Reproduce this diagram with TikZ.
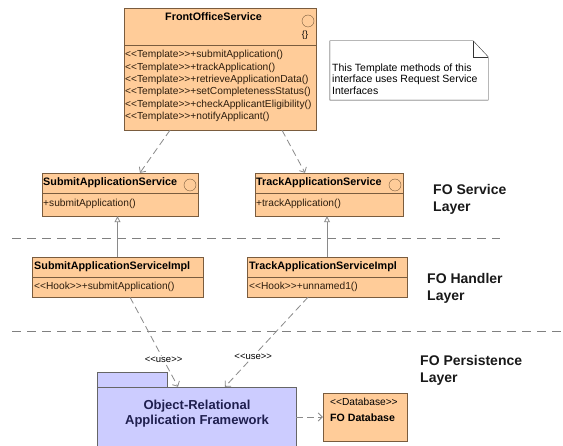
\documentclass[tikz,border=0pt]{standalone}
\usepackage{fontspec}
\setmainfont{Liberation Sans}[Ligatures=TeXOff]
\usetikzlibrary{arrows.meta, positioning}
\definecolor{peach}{HTML}{FFCC99}
\definecolor{peachline}{HTML}{7A5C3E}
\definecolor{lilac}{HTML}{CCCCFF}
\definecolor{pkgtext}{HTML}{1F1F4F}
\definecolor{depgray}{HTML}{8A8A8A}
\definecolor{optext}{HTML}{2E1E0E}

\begin{document}
\begin{tikzpicture}[x=1pt, y=-1pt,
  box/.style={draw=peachline, fill=peach, inner sep=0pt},
  title/.style={font=\fontsize{10.8}{13}\selectfont\bfseries, inner sep=0pt, anchor=west},
  op/.style={font=\fontsize{10.2}{12.3}\selectfont, text=optext, inner sep=0pt, anchor=west, align=left},
  iface/.style={draw=peachline, fill=peach, circle, minimum size=12pt, inner sep=0pt},
  layername/.style={font=\fontsize{14}{17}\selectfont\bfseries, text=black!90, align=left, anchor=west, inner sep=0pt},
  dep/.style={draw=depgray, line width=0.8pt, dash pattern=on 7pt off 4pt,
              -{Straight Barb[length=4pt, width=8pt]}},
  real/.style={draw=depgray, line width=0.8pt, -{Triangle[open, length=6pt, width=6pt]}},
  sep/.style={draw=gray, line width=0.9pt, dash pattern=on 9pt off 6pt},
  uselabel/.style={font=\fontsize{9.5}{11}\selectfont, fill=white, inner sep=1pt}
]
  \useasboundingbox[fill=white] (0,0) rectangle (563,446);
  \clip (0,0) rectangle (563,446);

  % layer separators
  \draw[sep] (12,238) -- (500,238);
  \draw[sep] (12,331) -- (563,331);

  % FO service interface
  \node[box, minimum width=192pt, minimum height=37pt] (fosh) at (220,26.5) {};
  \node[box, minimum width=192pt, minimum height=85pt] (fosb) at (220,87.5) {};
  \node[title] (fost) at (165,17) {FrontOfficeService};
  \node[iface] (fosc) at (308,21) {};
  \node[font=\fontsize{9}{10}\selectfont, inner sep=0pt] (fosk) at (305,35) {\{\}};
  \node[op, font=\fontsize{10.2}{12.3}\selectfont] (foso) at (125,86)
    {<<Template>>+submitApplication()\\
     <<Template>>+trackApplication()\\
     <<Template>>+retrieveApplicationData()\\
     <<Template>>+setCompletenessStatus()\\
     <<Template>>+checkApplicantEligibility()\\
     <<Template>>+notifyApplicant()};

  % note
  \node[minimum width=158pt, minimum height=59pt, inner sep=0pt] (note) at (409,70.5) {};
  \draw[black!80, fill=white] (note.north west) -- ([xshift=-15pt]note.north east)
    -- ([yshift=-16pt]note.north east) -- (note.south east) -- (note.south west) -- cycle;
  \draw[black!80] ([xshift=-15pt]note.north east) -- ([xshift=-15pt, yshift=-16pt]note.north east)
    -- ([yshift=-16pt]note.north east);
  \node[op, text=black, font=\fontsize{10.5}{11.7}\selectfont] (notetxt) at (332,79)
    {This Template methods of this\\interface uses Request Service\\Interfaces};

  % service layer
  \node[box, minimum width=156pt, minimum height=20pt] (sash) at (120,183) {};
  \node[box, minimum width=156pt, minimum height=23pt] (sasb) at (120,204.5) {};
  \node[title] (sast) at (43,183) {SubmitApplicationService};
  \node[iface] (sasc) at (190,185) {};
  \node[op] (saso) at (43,204) {+submitApplication()};

  \node[box, minimum width=148pt, minimum height=20pt] (tash) at (329,183) {};
  \node[box, minimum width=148pt, minimum height=23pt] (tasb) at (329,204.5) {};
  \node[title] (tast) at (256,183) {TrackApplicationService};
  \node[iface] (tasc) at (395,185) {};
  \node[op] (taso) at (256,204) {+trackApplication()};

  % handler layer
  \node[box, minimum width=171pt, minimum height=20pt] (sasih) at (117.5,267) {};
  \node[box, minimum width=171pt, minimum height=20pt] (sasib) at (117.5,287) {};
  \node[title] (sasit) at (34,267) {SubmitApplicationServiceImpl};
  \node[op] (sasio) at (34,287) {<<Hook>>+submitApplication()};

  \node[box, minimum width=160pt, minimum height=20pt] (tasih) at (327,267) {};
  \node[box, minimum width=160pt, minimum height=20pt] (tasib) at (327,287) {};
  \node[title] (tasit) at (249,267) {TrackApplicationServiceImpl};
  \node[op] (tasio) at (249,287) {<<Hook>>+unnamed1()};

  % persistence layer
  \node[draw=black!60, fill=lilac, minimum width=70pt, minimum height=15pt] (pkgtab) at (132,379.5) {};
  \node[draw=black!60, fill=lilac, minimum width=199pt, minimum height=65pt] (pkg) at (196.5,419.5) {};
  \node[font=\fontsize{13}{15}\selectfont\bfseries, text=pkgtext, align=center] (pkgtxt) at (197,414)
    {Object-Relational\\Application Framework};

  \node[box, minimum width=84pt, minimum height=48pt] (db) at (365,417) {};
  \node[op, text=black] (dbst) at (330,402) {<<Database>>};
  \node[title, text=black, font=\fontsize{10.6}{12}\selectfont\bfseries] (dbt) at (330,418) {FO Database};

  % layer names
  \node[layername] (lsvc) at (433,199) {FO Service\\Layer};
  \node[layername] (lhdl) at (427,288.5) {FO Handler\\Layer};
  \node[layername] (lper) at (420,370) {FO Persistence\\Layer};

  % connectors
  \draw[dep] ([xshift=-50pt]fosb.south) -- ([xshift=20pt]sash.north);
  \draw[dep] ([xshift=62pt]fosb.south) -- ([xshift=-24pt]tash.north);
  \draw[real] (sasih.north) -- (sasih.north |- sasb.south);
  \draw[real] (tasih.north) -- (tasih.north |- tasb.south);
  \draw[dep] ([xshift=12.5pt]sasib.south) -- node[uselabel, pos=0.7] {<<use>>} ([xshift=-18.5pt]pkg.north);
  \draw[dep] ([xshift=-19pt]tasib.south) -- node[uselabel, pos=0.66] {<<use>>} ([xshift=28.5pt]pkg.north);
  \draw[dep] (pkg.east |- db.west) -- (db.west);
\end{tikzpicture}
\end{document}
